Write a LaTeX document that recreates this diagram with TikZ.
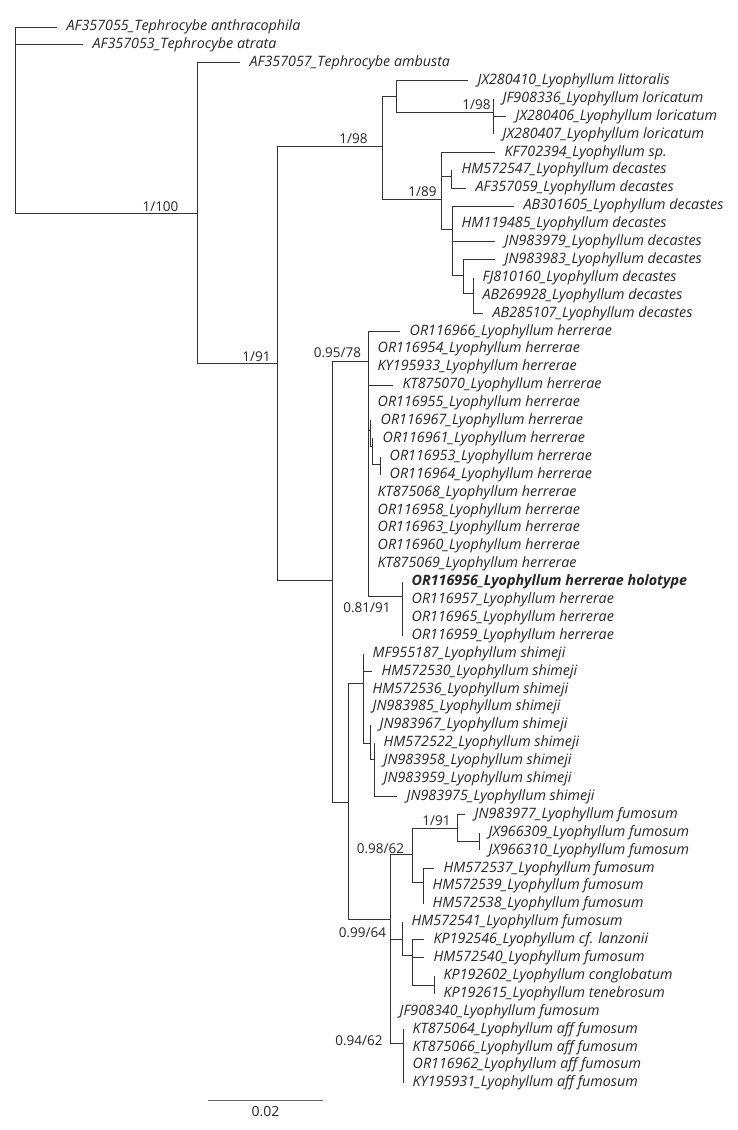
\documentclass[tikz,border=0pt]{standalone}
\usepackage{fontspec}
\setmainfont{Open Sans}
\usepackage{tikz}
\usetikzlibrary{positioning}

\begin{document}
\begin{tikzpicture}[
    x=1pt, y=-1pt,
    br/.style={draw=black!80, line width=0.9pt},
    tip/.style={anchor=west, inner xsep=9.5pt, inner ysep=0pt, font=\fontsize{14.3}{16}\selectfont\itshape, text=black!85},
    holotype/.style={tip, font=\fontsize{14.3}{16}\selectfont\bfseries\itshape},
    supp/.style={inner sep=0pt, font=\fontsize{13.5}{15}\selectfont, text=black!85},
    scalebar/.style={draw=black!60, line width=0.9pt}
]
    \useasboundingbox (0,0) rectangle (737,1130);

    % === Internal nodes ===
    \coordinate (root) at (15,213);
    \coordinate (tephro) at (197,213);
    \coordinate (lyo) at (277,363);
    \coordinate (decC) at (382,146);
    \coordinate (litD) at (396,96);
    \coordinate (lorE) at (493,112);
    \coordinate (decF) at (441,199);
    \coordinate (decG) at (451,176);
    \coordinate (decH) at (452,229);
    \coordinate (decI) at (463,275);
    \coordinate (decJ) at (473,293);
    \coordinate (herK) at (332,580);
    \coordinate (herC) at (368,361);
    \coordinate (herL) at (370,430);
    \coordinate (herM) at (372,446);
    \coordinate (herN) at (380,464);
    \coordinate (herHolo) at (402,596);
    \coordinate (shifum) at (348,802);
    \coordinate (shiQ) at (363,683);
    \coordinate (shiR) at (370,743);
    \coordinate (shiS) at (374,759);
    \coordinate (fumU) at (390,919);
    \coordinate (fumT) at (412,854);
    \coordinate (fumV) at (457,828);
    \coordinate (fumW) at (479,841);
    \coordinate (fumX) at (423,882);
    \coordinate (fumY) at (402,939);
    \coordinate (fumY2) at (412,955);
    \coordinate (fumY3) at (434,985);
    \coordinate (fumZ) at (403,1043);

    % === Tephrocybe ===
    \node[tip] (AF357055) at (57,27.0) {AF357055\_Tephrocybe anthracophila};
    \node[tip] (AF357053) at (83,44.9) {AF357053\_Tephrocybe atrata};
    \node[tip] (AF357057) at (240,62.8) {AF357057\_Tephrocybe ambusta};

    % === L. littoralis / loricatum / decastes ===
    \node[tip] (JX280410) at (468,80.7) {JX280410\_Lyophyllum littoralis};
    \node[tip] (JF908336) at (493,98.6) {JF908336\_Lyophyllum loricatum};
    \node[tip] (JX280406) at (506,116.5) {JX280406\_Lyophyllum loricatum};
    \node[tip] (JX280407) at (493,134.4) {JX280407\_Lyophyllum loricatum};
    \node[tip] (KF702394) at (495,152.3) {KF702394\_Lyophyllum sp.};
    \node[tip] (HM572547) at (452,170.2) {HM572547\_Lyophyllum decastes};
    \node[tip] (AF357059) at (466,188.1) {AF357059\_Lyophyllum decastes};
    \node[tip] (AB301605) at (514,206.0) {AB301605\_Lyophyllum decastes};
    \node[tip] (HM119485) at (452,223.9) {HM119485\_Lyophyllum decastes};
    \node[tip] (JN983979) at (495,241.8) {JN983979\_Lyophyllum decastes};
    \node[tip] (JN983983) at (495,259.7) {JN983983\_Lyophyllum decastes};
    \node[tip] (FJ810160) at (473,277.6) {FJ810160\_Lyophyllum decastes};
    \node[tip] (AB269928) at (473,295.5) {AB269928\_Lyophyllum decastes};
    \node[tip] (AB285107) at (483,313.4) {AB285107\_Lyophyllum decastes};

    % === L. herrerae ===
    \node[tip] (OR116966) at (400,331.3) {OR116966\_Lyophyllum herrerae};
    \node[tip] (OR116954) at (368,349.2) {OR116954\_Lyophyllum herrerae};
    \node[tip] (KY195933) at (368,367.1) {KY195933\_Lyophyllum herrerae};
    \node[tip] (KT875070) at (393,385.0) {KT875070\_Lyophyllum herrerae};
    \node[tip] (OR116955) at (368,402.9) {OR116955\_Lyophyllum herrerae};
    \node[tip] (OR116967) at (371,420.8) {OR116967\_Lyophyllum herrerae};
    \node[tip] (OR116961) at (373,438.7) {OR116961\_Lyophyllum herrerae};
    \node[tip] (OR116953) at (380,456.6) {OR116953\_Lyophyllum herrerae};
    \node[tip] (OR116964) at (380,474.5) {OR116964\_Lyophyllum herrerae};
    \node[tip] (KT875068) at (368,492.4) {KT875068\_Lyophyllum herrerae};
    \node[tip] (OR116958) at (368,510.3) {OR116958\_Lyophyllum herrerae};
    \node[tip] (OR116963) at (368,528.2) {OR116963\_Lyophyllum herrerae};
    \node[tip] (OR116960) at (368,546.1) {OR116960\_Lyophyllum herrerae};
    \node[tip] (KT875069) at (368,564.0) {KT875069\_Lyophyllum herrerae};
    \node[holotype] (OR116956) at (402,581.9) {OR116956\_Lyophyllum herrerae holotype};
    \node[tip] (OR116957) at (402,599.8) {OR116957\_Lyophyllum herrerae};
    \node[tip] (OR116965) at (402,617.7) {OR116965\_Lyophyllum herrerae};
    \node[tip] (OR116959) at (402,635.6) {OR116959\_Lyophyllum herrerae};

    % === L. shimeji ===
    \node[tip] (MF955187) at (363,653.5) {MF955187\_Lyophyllum shimeji};
    \node[tip] (HM572530) at (372,671.4) {HM572530\_Lyophyllum shimeji};
    \node[tip] (HM572536) at (363,689.3) {HM572536\_Lyophyllum shimeji};
    \node[tip] (JN983985) at (363,707.2) {JN983985\_Lyophyllum shimeji};
    \node[tip] (JN983967) at (370,725.1) {JN983967\_Lyophyllum shimeji};
    \node[tip] (HM572522) at (374,743.0) {HM572522\_Lyophyllum shimeji};
    \node[tip] (JN983958) at (374,760.9) {JN983958\_Lyophyllum shimeji};
    \node[tip] (JN983959) at (374,778.8) {JN983959\_Lyophyllum shimeji};
    \node[tip] (JN983975) at (397,796.7) {JN983975\_Lyophyllum shimeji};

    % === L. fumosum and allies ===
    \node[tip] (JN983977) at (465,814.6) {JN983977\_Lyophyllum fumosum};
    \node[tip] (JX966309) at (479,832.5) {JX966309\_Lyophyllum fumosum};
    \node[tip] (JX966310) at (479,850.4) {JX966310\_Lyophyllum fumosum};
    \node[tip] (HM572537) at (434,868.3) {HM572537\_Lyophyllum fumosum};
    \node[tip] (HM572539) at (423,886.2) {HM572539\_Lyophyllum fumosum};
    \node[tip] (HM572538) at (423,904.1) {HM572538\_Lyophyllum fumosum};
    \node[tip] (HM572541) at (402,922.0) {HM572541\_Lyophyllum fumosum};
    \node[tip] (KP192546) at (424,939.9) {KP192546\_Lyophyllum cf. lanzonii};
    \node[tip] (HM572540) at (424,957.8) {HM572540\_Lyophyllum fumosum};
    \node[tip] (KP192602) at (434,975.7) {KP192602\_Lyophyllum conglobatum};
    \node[tip] (KP192615) at (434,993.6) {KP192615\_Lyophyllum tenebrosum};
    \node[tip] (JF908340) at (390,1011.5) {JF908340\_Lyophyllum fumosum};
    \node[tip] (KT875064) at (403,1029.4) {KT875064\_Lyophyllum aff fumosum};
    \node[tip] (KT875066) at (403,1047.3) {KT875066\_Lyophyllum aff fumosum};
    \node[tip] (OR116962) at (403,1065.2) {OR116962\_Lyophyllum aff fumosum};
    \node[tip] (KY195931) at (403,1083.1) {KY195931\_Lyophyllum aff fumosum};

    % === Branches ===
    \draw[br] (root) |- (AF357055) (root) |- (AF357053) (root) |- (tephro);
    \draw[br] (tephro) |- (AF357057) (tephro) |- (lyo);
    \draw[br] (lyo) |- (decC) (lyo) |- (herK);
    \draw[br] (decC) |- (litD) (decC) |- (decF);
    \draw[br] (litD) |- (JX280410) (litD) |- (lorE);
    \draw[br] (lorE) |- (JF908336) (lorE) |- (JX280406) (lorE) |- (JX280407);
    \draw[br] (decF) |- (KF702394) (decF) |- (decG) (decF) |- (decH);
    \draw[br] (decG) |- (HM572547) (decG) |- (AF357059);
    \draw[br] (decH) |- (AB301605) (decH) |- (HM119485) (decH) |- (JN983979) (decH) |- (decI);
    \draw[br] (decI) |- (JN983983) (decI) |- (decJ);
    \draw[br] (decJ) |- (FJ810160) (decJ) |- (AB269928) (decJ) |- (AB285107);

    \draw[br] (herK) |- (herC) (herK) |- (shifum);
    \draw[br] (herC) |- (OR116966) (herC) |- (OR116954) (herC) |- (KY195933) (herC) |- (KT875070)
        (herC) |- (OR116955) (herC) |- (herL) (herC) |- (KT875068) (herC) |- (OR116958)
        (herC) |- (OR116963) (herC) |- (OR116960) (herC) |- (KT875069) (herC) |- (herHolo);
    \draw[br] (herL) |- (OR116967) (herL) |- (herM);
    \draw[br] (herM) |- (OR116961) (herM) |- (herN);
    \draw[br] (herN) |- (OR116953) (herN) |- (OR116964);
    \draw[br] (herHolo) |- (OR116956) (herHolo) |- (OR116957) (herHolo) |- (OR116965) (herHolo) |- (OR116959);

    \draw[br] (shifum) |- (shiQ) (shifum) |- (fumU);
    \draw[br] (shiQ) |- (MF955187) (shiQ) |- (HM572530) (shiQ) |- (HM572536) (shiQ) |- (JN983985) (shiQ) |- (shiR);
    \draw[br] (shiR) |- (JN983967) (shiR) |- (shiS);
    \draw[br] (shiS) |- (HM572522) (shiS) |- (JN983958) (shiS) |- (JN983959) (shiS) |- (JN983975);

    \draw[br] (fumU) |- (fumT) (fumU) |- (fumY) (fumU) |- (JF908340) (fumU) |- (fumZ);
    \draw[br] (fumT) |- (fumV) (fumT) |- (fumX);
    \draw[br] (fumV) |- (JN983977) (fumV) |- (fumW);
    \draw[br] (fumW) |- (JX966309) (fumW) |- (JX966310);
    \draw[br] (fumX) |- (HM572537) (fumX) |- (HM572539) (fumX) |- (HM572538);
    \draw[br] (fumY) |- (HM572541) (fumY) |- (fumY2);
    \draw[br] (fumY2) |- (KP192546) (fumY2) |- (HM572540) (fumY2) |- (fumY3);
    \draw[br] (fumY3) |- (KP192602) (fumY3) |- (KP192615);
    \draw[br] (fumZ) |- (KT875064) (fumZ) |- (KT875066) (fumZ) |- (OR116962) (fumZ) |- (KY195931);

    % === Support values ===
    \node[supp] (s100) at (160.5,207) {1/100};
    \node[supp] (s91a) at (256.5,357) {1/91};
    \node[supp] (s98a) at (353.5,139) {1/98};
    \node[supp] (s98b) at (476.5,105) {1/98};
    \node[supp] (s89) at (422.5,192) {1/89};
    \node[supp] (s95) at (337.5,353) {0.95/78};
    \node[supp] (s81) at (367,608) {0.81/91};
    \node[supp] (s91b) at (436.5,821) {1/91};
    \node[supp] (s98c) at (380.5,849) {0.98/62};
    \node[supp] (s99) at (362.5,933) {0.99/64};
    \node[supp] (s94) at (359,1041) {0.94/62};

    % Scale bar
    \coordinate (barL) at (208,1100);
    \coordinate (barR) at (323,1100);
    \draw[scalebar] (barL) -- coordinate (barM) (barR);
    \node[supp, below=6pt of barM, font=\fontsize{14}{16}\selectfont] (barlab) {0.02};
\end{tikzpicture}
\end{document}
